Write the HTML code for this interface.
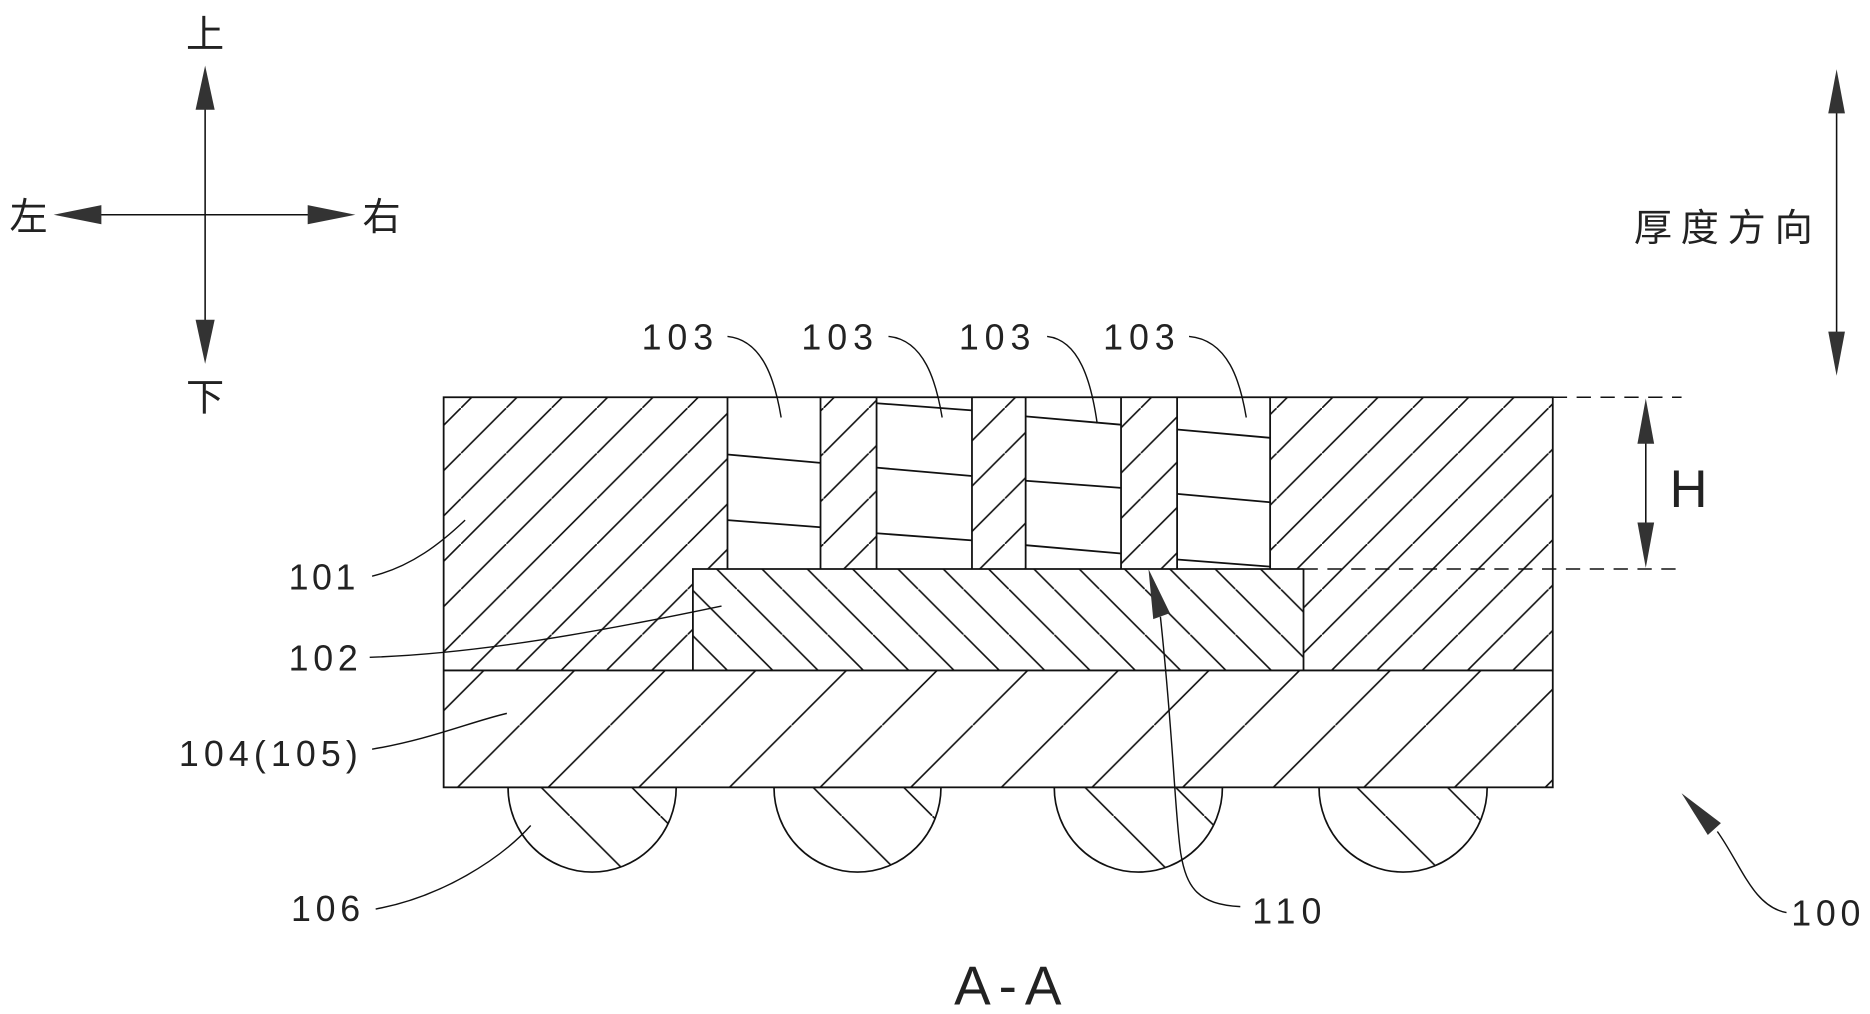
<!DOCTYPE html>
<html><head><meta charset="utf-8"><style>
html,body{margin:0;padding:0;background:#fff}
svg{display:block}
text{font-family:"Liberation Sans","Noto Sans CJK SC",sans-serif;fill:#222}
</style></head><body>
<svg width="1870" height="1014" viewBox="0 0 1568 850" preserveAspectRatio="none" xmlns="http://www.w3.org/2000/svg">
<defs>
<pattern id="p45" patternUnits="userSpaceOnUse" width="38" height="38" x="6.5" y="0">
<line x1="-2" y1="40" x2="40" y2="-2" stroke="#111" stroke-width="1.4"/>
</pattern>
<pattern id="p104" patternUnits="userSpaceOnUse" width="76" height="76" x="55.7" y="0">
<line x1="-2" y1="78" x2="78" y2="-2" stroke="#111" stroke-width="1.4"/>
</pattern>
<pattern id="p102" patternUnits="userSpaceOnUse" width="38" height="38" x="10" y="0">
<line x1="-2" y1="-2" x2="40" y2="40" stroke="#111" stroke-width="1.4"/>
</pattern>
<pattern id="pb" patternUnits="userSpaceOnUse" width="76" height="76" x="21.8" y="0">
<line x1="-2" y1="-2" x2="78" y2="78" stroke="#111" stroke-width="1.4"/>
</pattern>
<clipPath id="c101"><path d="M372,333 H610 V477 H581 V562 H372 Z M688,333 H735 V477 H688 Z M815,333 H860 V477 H815 Z M940,333 H987 V477 H940 Z M1065,333 H1302 V562 H1093 V477 H1065 Z"/></clipPath>
</defs>

<rect x="372" y="333" width="930" height="229" fill="url(#p45)" clip-path="url(#c101)"/>
<rect x="581" y="477" width="512" height="85" fill="url(#p102)"/>
<rect x="372" y="562" width="930" height="98" fill="url(#p104)"/>

<g stroke="#111" stroke-width="1.4">
<path d="M426,660 A70.5,71 0 1 0 567,660 Z" fill="url(#pb)"/>
<path d="M649,660 A70,71 0 1 0 789,660 Z" fill="url(#pb)"/>
<path d="M884,660 A70.5,71 0 1 0 1025,660 Z" fill="url(#pb)"/>
<path d="M1106,660 A70.5,71 0 1 0 1247,660 Z" fill="url(#pb)"/>
</g>

<g stroke="#111" stroke-width="1.5" fill="none">
<rect x="372" y="333" width="930" height="327"/>
<line x1="372" y1="562" x2="1302" y2="562"/>
<polyline points="581,562 581,477 1093,477"/>
<line x1="1093" y1="477" x2="1093" y2="562"/>
<line x1="610" y1="333" x2="610" y2="477"/>
<line x1="688" y1="333" x2="688" y2="477"/>
<line x1="735" y1="333" x2="735" y2="477"/>
<line x1="815" y1="333" x2="815" y2="477"/>
<line x1="860" y1="333" x2="860" y2="477"/>
<line x1="940" y1="333" x2="940" y2="477"/>
<line x1="987" y1="333" x2="987" y2="477"/>
<line x1="1065" y1="333" x2="1065" y2="477"/>
<line x1="610" y1="381" x2="688" y2="388"/>
<line x1="610" y1="436" x2="688" y2="442"/>
<line x1="735" y1="338" x2="815" y2="344"/>
<line x1="735" y1="392" x2="815" y2="399"/>
<line x1="735" y1="447" x2="815" y2="453"/>
<line x1="860" y1="349" x2="940" y2="356"/>
<line x1="860" y1="403" x2="940" y2="409"/>
<line x1="860" y1="457" x2="940" y2="464"/>
<line x1="987" y1="360" x2="1065" y2="367"/>
<line x1="987" y1="414" x2="1065" y2="421"/>
<line x1="987" y1="469" x2="1065" y2="475"/>
</g>
<g stroke="#111" stroke-width="1.3" stroke-dasharray="12,8" fill="none">
<line x1="1302" y1="333" x2="1410" y2="333"/>
<line x1="1093" y1="477" x2="1410" y2="477"/>
</g>

<g stroke="#111" stroke-width="1.3">
<line x1="172" y1="65" x2="172" y2="300"/>
<line x1="55" y1="180" x2="290" y2="180"/>
<line x1="1540" y1="68" x2="1540" y2="305"/>
<line x1="1380" y1="340" x2="1380" y2="470"/>
</g>
<g fill="#333">
<polygon points="172,55 164,92 180,92"/>
<polygon points="172,305 164,268 180,268"/>
<polygon points="45,180 85,172 85,188"/>
<polygon points="298,180 258,172 258,188"/>
<polygon points="1540,58 1533,95 1547,95"/>
<polygon points="1540,315 1533,278 1547,278"/>
<polygon points="1380,334 1373,372 1387,372"/>
<polygon points="1380,476 1373,438 1387,438"/>
<polygon points="963,477 967,519 981,514"/>
<polygon points="1410,665 1443,690 1432,700"/>
</g>

<g stroke="#111" stroke-width="1.2" fill="none">
<path d="M610,282 C640,285 650,320 655,350"/>
<path d="M745,282 C775,285 785,320 790,350"/>
<path d="M878,282 C905,285 915,320 920,355"/>
<path d="M997,282 C1030,285 1040,320 1045,350"/>
<path d="M312,483 C345,475 370,455 390,436"/>
<path d="M310,551 C400,548 500,530 605,508"/>
<path d="M312,628 C360,620 395,605 425,598"/>
<path d="M315,762 C370,752 420,720 445,692"/>
<path d="M1040,760 C1005,758 995,745 990,715 C985,680 984,620 973,517"/>
<path d="M1498,765 C1470,760 1460,725 1440,697"/>
</g>

<g font-size="30">
<text x="538" y="293" textLength="60">103</text>
<text x="672" y="293" textLength="60">103</text>
<text x="804" y="293" textLength="60">103</text>
<text x="925" y="293" textLength="60">103</text>
<text x="242" y="494" textLength="56">101</text>
<text x="242" y="562" textLength="58">102</text>
<text x="150" y="642" textLength="150">104(105)</text>
<text x="244" y="772" textLength="58">106</text>
<text x="1050" y="774" textLength="58">110</text>
<text x="1502" y="776" textLength="58">100</text>
</g>
<text x="1400" y="425" font-size="44" font-family="Liberation Serif,serif">H</text>
<text x="800" y="842" font-size="46" font-family="Liberation Serif,serif" textLength="90">A-A</text>
<g font-size="32" font-family="'Liberation Serif','Noto Serif CJK SC',serif">
<text x="156" y="40">上</text>
<text x="156" y="344">下</text>
<text x="8" y="193">左</text>
<text x="304" y="193">右</text>
<text x="1370" y="202" textLength="150">厚度方向</text>
</g>
</svg>
</body></html>
